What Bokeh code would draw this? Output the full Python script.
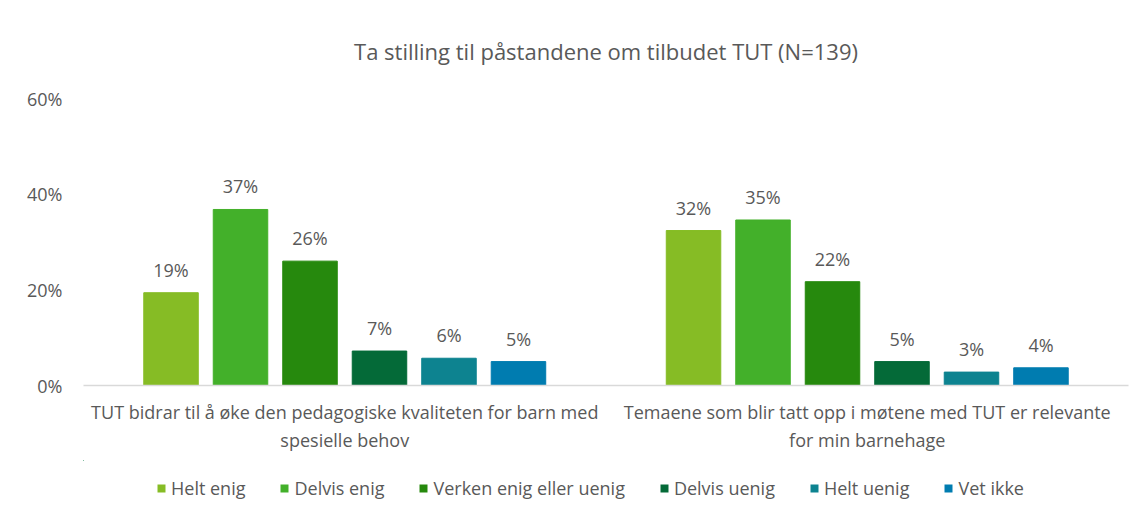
from bokeh.plotting import figure
from bokeh.layouts import column
from bokeh.models import ColumnDataSource, Range1d, FixedTicker, PrintfTickFormatter, Legend, LegendItem
from bokeh.transform import dodge
from bokeh.core.properties import value
from bokeh.embed import file_html
from bokeh.resources import INLINE

# ---- data ----
categories = [
    "TUT bidrar til å øke den pedagogiske kvaliteten for barn med\nspesielle behov",
    "Temaene som blir tatt opp i møtene med TUT er relevante\nfor min barnehage",
]
responses = ["Helt enig", "Delvis enig", "Verken enig eller uenig", "Delvis uenig", "Helt uenig", "Vet ikke"]
helt_enig = [19.4, 32.4]
delvis_enig = [36.8, 34.6]
verken = [26.0, 21.7]
delvis_uenig = [7.2, 5.0]
helt_uenig = [5.7, 2.8]
vet_ikke = [5.0, 3.7]
colors = ["#86BC25", "#43B02A", "#26890D", "#046A38", "#0D8390", "#007CB0"]
y_ticks = [0, 20, 40, 60]

series = [helt_enig, delvis_enig, verken, delvis_uenig, helt_uenig, vet_ikke]

FONT = "Open Sans"
GRAY = "#595959"
W = 1138

p = figure(width=W, height=460, output_backend="svg", toolbar_location=None,
           x_range=Range1d(-0.5, 1.5), y_range=Range1d(0, 60),
           min_border_left=83, min_border_right=10, min_border_top=95, min_border_bottom=75,
           title="Ta stilling til påstandene om tilbudet TUT (N=139)")
p.outline_line_color = None
p.grid.grid_line_color = None
p.background_fill_color = "white"
p.border_fill_color = "white"

p.title.align = "center"
p.title.text_font = FONT
p.title.text_font_size = "22px"
p.title.text_font_style = "normal"
p.title.text_color = GRAY
p.title.standoff = 66
p.title.offset = -22

src = ColumnDataSource(dict(
    g=[0, 1],
    **{f"s{i}": s for i, s in enumerate(series)},
    **{f"l{i}": [f"{round(v)}%" for v in s] for i, s in enumerate(series)},
))

step = 0.133
bw = 0.1043
for i, col in enumerate(colors):
    off = (i - 2.5) * step
    p.vbar(x=dodge("g", off, range=p.x_range), top=f"s{i}", width=bw, source=src,
           fill_color=col, line_color=col)
    p.text(x=dodge("g", off, range=p.x_range), y=f"s{i}", text=f"l{i}", source=src,
           text_align="center", text_baseline="bottom", y_offset=-11,
           text_font=value(FONT), text_font_size="18px", text_color=GRAY)

# y axis
ya = p.yaxis[0]
ya.ticker = FixedTicker(ticks=y_ticks)
ya.formatter = PrintfTickFormatter(format="%d%%")
ya.axis_line_color = None
ya.major_tick_line_color = None
ya.minor_tick_line_color = None
ya.major_label_standoff = 15
ya.major_label_text_font = FONT
ya.major_label_text_font_size = "18px"
ya.major_label_text_color = GRAY

# x axis
xa = p.xaxis[0]
xa.ticker = FixedTicker(ticks=[0, 1])
xa.major_label_overrides = {0: categories[0], 1: categories[1]}
xa.axis_line_color = "#d9d9d9"
xa.axis_line_width = 1.5
xa.major_tick_line_color = None
xa.minor_tick_line_color = None
xa.major_label_standoff = 8
xa.major_label_text_font = FONT
xa.major_label_text_font_size = "18px"
xa.major_label_text_color = GRAY

# ---- legend strip (its bars lie far outside the visible ranges) ----
lg = figure(width=W, height=49, output_backend="svg", toolbar_location=None,
            x_range=Range1d(100, 101), y_range=Range1d(-1000, -999),
            x_axis_location=None, y_axis_location=None,
            min_border_left=0, min_border_right=0, min_border_top=0, min_border_bottom=0)
lg.grid.grid_line_color = None
lg.outline_line_color = None
items = []
for i, (name, col) in enumerate(zip(responses, colors)):
    r = lg.vbar(x="g", top=f"s{i}", width=bw, source=src, fill_color=col, line_color=None)
    items.append(LegendItem(label=name, renderers=[r]))
legend = Legend(items=items, orientation="horizontal", location=(73, 9),
                glyph_width=10, glyph_height=10, label_standoff=5, spacing=34,
                padding=4, margin=0,
                label_text_font=FONT, label_text_font_size="18px", label_text_color=GRAY,
                border_line_color=None, background_fill_alpha=0)
lg.add_layout(legend, "center")

layout = column(p, lg, spacing=0)
open("out.html", "w").write(file_html(layout, INLINE))
